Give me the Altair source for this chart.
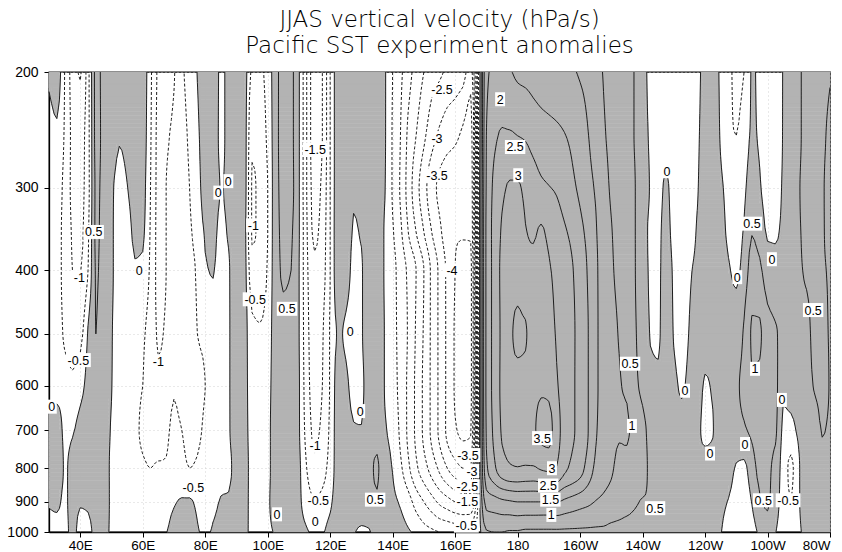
import math
import numpy as np
import pandas as pd
import altair as alt

alt.data_transformers.disable_max_rows()

# ---------------------------------------------------------------- data
LEVELS = [200, 250, 300, 350, 400, 500, 600, 700, 800, 900, 1000]
LON_START = 30.0
LON_STEP = 2.5

# vertical profiles (hPa/s) at LEVELS, one per longitude, 2.5 deg apart
SECTOR_30E = [  # 30E .. 57.5E
    [0.1, -0.2, -0.3, -0.3, -0.3, -0.3, -0.2, 0.3, 0.3, 0.05, -0.2],
    [0.3, -0.1, -0.35, -0.4, -0.4, -0.35, -0.2, 0.3, 0.35, 0.1, -0.2],
    [-0.5, -0.55, -0.6, -0.6, -0.6, -0.55, -0.3, -0.1, -0.05, -0.1, -0.2],
    [-1.2, -1.1, -1.1, -1.05, -1.0, -0.7, -0.4, -0.05, 0.15, 0.2, 0.2],
    [-1.55, -1.2, -1.15, -1.1, -1.02, -0.65, -0.2, 0.2, 0.35, 0.05, -0.2],
    [-0.7, -0.7, -0.7, -0.6, -0.5, 0.05, 0.2, 0.35, 0.4, 0.1, -0.2],
    [0.65, 0.65, 0.6, 0.6, 0.55, 0.5, 0.45, 0.4, 0.35, 0.3, 0.2],
    [0.4, 0.4, 0.35, 0.3, 0.3, 0.3, 0.25, 0.25, 0.25, 0.25, 0.2],
    [0.4, 0.35, 0.1, 0.1, 0.1, 0.05, 0.02, -0.05, -0.1, -0.1, -0.1],
    [0.3, 0.05, -0.2, -0.3, -0.3, -0.35, -0.35, -0.35, -0.3, -0.3, -0.2],
    [0.3, 0.15, -0.02, -0.2, -0.3, -0.35, -0.4, -0.4, -0.35, -0.3, -0.2],
    [0.35, 0.3, 0.2, 0.1, -0.05, -0.4, -0.45, -0.45, -0.4, -0.3, -0.25],
]
SECTOR_60E = [  # 60E .. 87.5E
    [0.3, 0.25, 0.15, 0.08, -0.1, -0.45, -0.5, -0.55, -0.45, -0.3, -0.2],
    [-0.4, -0.45, -0.5, -0.55, -0.6, -0.7, -0.7, -0.65, -0.5, -0.3, -0.1],
    [-1.1, -1.1, -1.1, -1.1, -1.1, -1.05, -0.9, -0.75, -0.45, -0.3, -0.1],
    [-1.3, -1.05, -1.0, -1.0, -1.0, -0.95, -0.8, -0.6, -0.45, -0.2, -0.02],
    [-1.05, -0.9, -0.85, -0.8, -0.8, -0.75, -0.55, -0.4, -0.35, -0.05, 0.2],
    [-0.55, -0.6, -0.65, -0.7, -0.7, -0.7, -0.65, -0.5, -0.4, 0.05, 0.3],
    [-0.4, -0.45, -0.5, -0.55, -0.6, -0.65, -0.65, -0.6, -0.5, 0.05, 0.25],
    [0.02, -0.1, -0.2, -0.35, -0.45, -0.5, -0.55, -0.55, -0.45, -0.1, 0.05],
    [0.3, 0.25, 0.2, 0.05, -0.05, -0.45, -0.5, -0.45, -0.3, -0.3, -0.1],
    [0.35, 0.3, 0.2, 0.1, 0.03, -0.3, -0.35, -0.3, -0.25, -0.1, 0.05],
    [-0.1, -0.1, -0.02, -0.1, -0.2, -0.2, -0.2, -0.15, -0.1, 0.02, 0.1],
    [0.15, 0.15, 0.1, 0.05, -0.05, -0.05, -0.05, -0.05, -0.1, 0.05, 0.15],
]
SECTOR_90E = [  # 90E .. 117.5E
    [0.4, 0.4, 0.35, 0.3, 0.3, 0.25, 0.25, 0.25, 0.2, 0.25, 0.2],
    [0.25, 0.25, 0.25, 0.2, 0.2, 0.2, 0.2, 0.2, 0.2, 0.2, 0.1],
    [-0.6, -0.9, -1.05, -1.05, -0.8, -0.4, -0.3, -0.25, -0.2, -0.2, -0.1],
    [-0.6, -0.8, -0.9, -0.9, -0.8, -0.45, -0.3, -0.3, -0.3, -0.3, -0.2],
    [-0.3, -0.4, -0.5, -0.5, -0.45, -0.3, -0.2, -0.15, -0.15, -0.1, -0.1],
    [0.3, 0.3, 0.3, 0.3, 0.3, 0.3, 0.3, 0.3, 0.3, 0.25, 0.05],
    [0.7, 0.7, 0.65, 0.6, 0.55, 0.4, 0.35, 0.35, 0.35, 0.3, 0.2],
    [0.6, 0.6, 0.6, 0.55, 0.5, 0.35, 0.3, 0.3, 0.3, 0.3, 0.3],
    [0.05, 0.05, 0.05, 0.05, 0.02, 0.02, 0.05, 0.05, 0.1, 0.1, 0.2],
    [-1.0, -1.0, -1.0, -0.95, -0.9, -0.85, -0.8, -0.7, -0.5, -0.25, 0.05],
    [-1.8, -1.8, -1.7, -1.6, -1.4, -1.25, -1.2, -1.1, -0.9, -0.45, -0.1],
    [-1.5, -1.5, -1.4, -1.3, -1.2, -1.05, -1.0, -0.9, -0.7, -0.35, -0.05],
]
SECTOR_120E = [  # 120E .. 147.5E
    [-0.5, -0.5, -0.5, -0.5, -0.5, -0.45, -0.45, -0.4, -0.3, -0.1, 0.2],
    [0.3, 0.3, 0.3, 0.3, 0.3, 0.05, 0.2, 0.25, 0.25, 0.3, 0.3],
    [0.45, 0.45, 0.4, 0.3, 0.2, -0.05, 0.1, 0.3, 0.4, 0.4, 0.3],
    [0.45, 0.4, 0.1, -0.05, -0.1, -0.15, -0.15, 0.05, 0.35, 0.35, 0.05],
    [0.45, 0.4, 0.2, 0.05, -0.05, -0.05, -0.1, 0.02, 0.2, 0.3, -0.1],
    [0.45, 0.45, 0.4, 0.4, 0.35, 0.3, 0.25, 0.3, 0.4, 0.35, -0.05],
    [0.3, 0.3, 0.3, 0.3, 0.3, 0.25, 0.25, 0.35, 0.55, 0.45, 0.3],
    [0.05, 0.05, 0.02, -0.05, -0.05, -0.02, -0.02, 0.05, 0.2, 0.3, 0.35],
    [-0.5, -0.55, -0.55, -0.45, -0.35, -0.35, -0.3, -0.15, -0.02, 0.1, 0.25],
    [-0.9, -1.0, -1.05, -0.9, -0.7, -0.65, -0.65, -0.6, -0.4, -0.05, 0.15],
    [-1.3, -1.6, -1.7, -1.5, -1.1, -1.05, -1.1, -1.1, -0.9, -0.3, 0.05],
    [-1.7, -2.0, -2.3, -2.0, -1.5, -1.55, -1.6, -1.6, -1.4, -0.7, -0.1],
]
SECTOR_150E = [  # 150E .. 177.5E
    [-2.0, -2.4, -2.8, -2.5, -2.0, -2.05, -2.1, -2.1, -1.8, -1.0, -0.3],
    [-2.3, -2.8, -3.3, -3.0, -2.6, -2.6, -2.6, -2.6, -2.2, -1.3, -0.4],
    [-2.4, -3.1, -3.6, -3.4, -3.1, -3.1, -3.1, -3.1, -2.6, -1.6, -0.5],
    [-2.6, -3.3, -3.75, -3.75, -3.6, -3.6, -3.6, -3.6, -3.0, -1.8, -0.55],
    [-2.7, -3.4, -3.85, -3.95, -4.0, -4.05, -4.05, -3.95, -3.3, -2.0, -0.6],
    [-2.8, -3.6, -3.9, -3.95, -4.3, -4.25, -4.25, -4.1, -3.5, -2.1, -0.65],
    [-3.3, -3.8, -3.9, -3.95, -4.2, -4.2, -4.2, -4.05, -3.5, -2.1, -0.6],
    [-0.5, -0.5, -0.4, -0.4, -0.4, -0.4, -0.4, -0.4, -0.3, -0.3, -0.2],
    [1.9, 2.0, 2.05, 2.1, 2.1, 2.1, 2.1, 2.05, 1.9, 1.2, 0.45],
    [2.1, 2.4, 2.6, 2.65, 2.65, 2.65, 2.65, 2.6, 2.4, 1.3, 0.5],
    [2.2, 2.55, 2.9, 3.05, 3.1, 3.1, 3.1, 3.05, 2.8, 1.4, 0.5],
    [2.05, 2.55, 3.05, 3.2, 3.25, 3.4, 3.3, 3.2, 2.95, 1.45, 0.45],
]
SECTOR_180 = [  # 180 .. 152.5W
    [1.9, 2.5, 3.05, 3.2, 3.3, 3.6, 3.35, 3.3, 2.98, 1.5, 0.45],
    [1.85, 2.45, 2.9, 3.02, 3.1, 3.55, 3.35, 3.35, 2.95, 1.5, 0.4],
    [1.8, 2.3, 2.75, 2.95, 3.1, 3.25, 3.4, 3.45, 2.95, 1.5, 0.4],
    [1.75, 2.2, 2.6, 3.05, 3.15, 3.25, 3.45, 3.6, 3.05, 1.5, 0.4],
    [1.7, 2.15, 2.52, 2.9, 3.05, 3.2, 3.4, 3.65, 3.1, 1.5, 0.4],
    [1.65, 2.1, 2.45, 2.7, 2.85, 2.95, 3.05, 3.2, 2.98, 1.52, 0.4],
    [1.6, 2.02, 2.3, 2.55, 2.7, 2.75, 2.8, 2.8, 2.6, 1.4, 0.4],
    [1.55, 1.9, 2.1, 2.4, 2.52, 2.55, 2.55, 2.55, 2.4, 1.3, 0.4],
    [1.45, 1.75, 1.9, 2.15, 2.35, 2.4, 2.4, 2.4, 2.2, 1.2, 0.4],
    [1.35, 1.52, 1.65, 1.85, 1.95, 2.02, 2.02, 2.02, 1.8, 1.1, 0.4],
    [1.15, 1.3, 1.45, 1.55, 1.6, 1.6, 1.6, 1.55, 1.4, 0.98, 0.4],
    [0.98, 1.05, 1.15, 1.2, 1.25, 1.3, 1.3, 1.3, 1.2, 0.9, 0.4],
]
SECTOR_150W = [  # 150W .. 122.5W
    [0.85, 0.9, 0.95, 1.02, 1.05, 1.1, 1.1, 1.1, 1.05, 0.8, 0.35],
    [0.75, 0.75, 0.8, 0.85, 0.9, 0.98, 1.02, 1.02, 0.9, 0.7, 0.35],
    [0.65, 0.65, 0.7, 0.7, 0.75, 0.8, 0.95, 1.05, 0.85, 0.65, 0.3],
    [0.48, 0.48, 0.52, 0.52, 0.52, 0.55, 0.6, 0.8, 0.7, 0.55, 0.3],
    [0.15, 0.15, 0.2, 0.2, 0.25, 0.3, 0.4, 0.6, 0.6, 0.48, 0.3],
    [-0.1, -0.05, -0.02, -0.05, -0.05, -0.02, 0.15, 0.4, 0.45, 0.48, 0.3],
    [-0.2, -0.2, -0.1, -0.05, -0.05, -0.05, 0.1, 0.3, 0.4, 0.45, 0.3],
    [-0.2, -0.1, 0.05, 0.1, 0.15, 0.2, 0.25, 0.3, 0.4, 0.4, 0.3],
    [-0.3, -0.25, -0.15, -0.1, -0.05, -0.02, 0.1, 0.2, 0.3, 0.35, 0.3],
    [-0.3, -0.3, -0.25, -0.2, -0.2, -0.15, -0.05, 0.15, 0.25, 0.3, 0.3],
    [-0.3, -0.3, -0.25, -0.2, -0.05, 0.02, 0.1, 0.2, 0.3, 0.3, 0.3],
    [-0.15, -0.1, -0.05, 0.05, 0.1, 0.15, 0.2, 0.1, 0.15, 0.3, 0.3],
]
SECTOR_120W = [  # 120W .. 80W
    [0.2, 0.25, 0.3, 0.3, 0.3, 0.25, -0.05, -0.1, 0.2, 0.3, 0.3],
    [0.3, 0.3, 0.3, 0.3, 0.3, 0.25, 0.05, -0.02, 0.2, 0.3, 0.25],
    [-0.1, -0.05, 0.1, 0.2, 0.25, 0.3, 0.3, 0.3, 0.2, 0.1, 0.02],
    [-0.3, -0.4, -0.2, -0.1, 0.05, 0.25, 0.35, 0.35, 0.2, -0.02, -0.15],
    [-0.7, -0.5, -0.35, -0.2, -0.1, 0.3, 0.45, 0.4, -0.05, -0.2, -0.25],
    [-0.5, -0.25, -0.1, 0.05, 0.2, 0.55, 0.6, 0.45, -0.1, -0.25, -0.3],
    [0.05, 0.05, 0.25, 0.48, 0.7, 1.05, 0.95, 0.6, 0.3, 0.02, -0.2],
    [-0.1, -0.05, 0.05, 0.3, 0.6, 1.05, 0.9, 0.7, 0.6, 0.45, 0.1],
    [-0.3, -0.3, -0.2, -0.05, 0.2, 0.7, 0.8, 0.7, 0.6, 0.55, 0.3],
    [-0.25, -0.2, -0.15, -0.05, 0.15, 0.55, 0.65, 0.6, 0.3, 0.2, 0.02],
    [0.02, 0.02, 0.05, 0.1, 0.3, 0.4, 0.1, -0.1, -0.2, -0.2, -0.2],
    [0.3, 0.3, 0.35, 0.4, 0.45, 0.45, 0.2, -0.15, -0.6, -0.5, -0.3],
    [0.45, 0.45, 0.48, 0.48, 0.48, 0.45, 0.35, 0.1, -0.05, -0.05, -0.1],
    [0.6, 0.6, 0.6, 0.55, 0.52, 0.45, 0.4, 0.2, 0.3, 0.3, 0.2],
    [0.7, 0.7, 0.65, 0.6, 0.55, 0.55, 0.52, 0.3, 0.4, 0.4, 0.3],
    [0.6, 0.55, 0.52, 0.52, 0.52, 0.55, 0.6, 0.52, 0.4, 0.35, 0.2],
    [0.52, 0.45, 0.45, 0.45, 0.48, 0.48, 0.48, 0.45, 0.35, 0.3, 0.02],
]

# contour labels as printed on the figure
LABEL_TEXT = ["0", "0.5", "-1", "-0.5", "0", "0", "0", "-1", "-0.5",
              "-1", "-0.5", "0.5", "-1.5", "-1", "-0.5", "0", "0", "0", "0", "0.5",
              "-2.5", "-3", "-3.5", "-4", "-3.5", "-3", "-2.5", "-1.5", "-0.5",
              "2", "2.5", "3", "3.5", "3", "2.5", "1.5", "1",
              "0.5", "1", "0.5", "0", "0", "0.5", "0", "0", "1", "0.5",
              "0", "0", "0", "0.5", "-0.5"]
LABEL_LON = [30.9, 44.3, 39.7, 39.4, 58.9, 84.2, 87.4, 65.0, 76.2,
             95.4, 96.0, 106.2, 115.2, 115.2, 116.2, 103.0, 115.2, 126.4, 129.6, 134.4,
             155.8, 154.2, 154.2, 159.0, 164.1, 165.4, 163.9, 163.9, 163.6,
             174.4, 179.2, 180.2, 187.9, 191.0, 189.8, 190.5, 190.8,
             216.0, 216.6, 224.0, 227.8, 233.6, 255.0, 261.4, 250.3, 256.0, 274.6,
             241.6, 252.8, 264.6, 258.6, 266.6]
LABEL_P = [645, 350, 410, 548, 400, 305, 293, 550, 855,
           342, 443, 458, 262, 740, 895, 940, 965, 495, 655, 893,
           213, 252, 287, 400, 764, 808, 852, 898, 978,
           220, 260, 287, 720, 800, 850, 893, 942,
           555, 690, 920, 283, 610, 340, 385, 410, 565, 460,
           760, 735, 630, 895, 895]

CONTOUR_LEVELS = [x / 2 for x in range(-9, 9)]

# ---------------------------------------------------------------- geometry
profiles = SECTOR_30E + SECTOR_60E + SECTOR_90E + SECTOR_120E + SECTOR_150E + SECTOR_180 + SECTOR_150W + SECTOR_120W
lons = np.array([LON_START + LON_STEP * i for i in range(len(profiles))])
Z = np.array(profiles, dtype=float).T          # (nlev, nlon)
lv = np.log(np.array(LEVELS, dtype=float))


def pchip(x, y, xq):
    """Monotone piecewise cubic (Fritsch-Carlson) curve through the given values."""
    x = np.asarray(x, float); y = np.asarray(y, float)
    h = np.diff(x); d = np.diff(y) / h
    n = len(x)
    m = np.zeros(n)
    for k in range(1, n - 1):
        if d[k - 1] * d[k] > 0:
            w1 = 2 * h[k] + h[k - 1]; w2 = h[k] + 2 * h[k - 1]
            m[k] = (w1 + w2) / (w1 / d[k - 1] + w2 / d[k])
    m[0] = d[0]; m[-1] = d[-1]
    k = np.clip(np.searchsorted(x, xq, side="right") - 1, 0, n - 2)
    t = (xq - x[k]) / h[k]
    h00 = 2 * t**3 - 3 * t**2 + 1; h10 = t**3 - 2 * t**2 + t
    h01 = -2 * t**3 + 3 * t**2; h11 = t**3 - t**2
    return h00 * y[k] + h10 * h[k] * m[k] + h01 * y[k + 1] + h11 * h[k] * m[k + 1]


FX = 3
fine_lon = np.linspace(lons[0], lons[-1], (len(lons) - 1) * FX + 1)
fv = []
for k in range(len(lv) - 1):
    n = max(2, int(round((lv[k + 1] - lv[k]) / (lv[-1] - lv[0]) * 460 / 4)))
    for s in range(n):
        fv.append(lv[k] + (lv[k + 1] - lv[k]) * s / n)
fv.append(lv[-1])
fine_v = np.array(fv)
Zx = np.array([pchip(lons, row, fine_lon) for row in Z])
ZF = np.array([pchip(lv, Zx[:, i], fine_v) for i in range(Zx.shape[1])]).T  # (nv, nx)


def edge_point(edge, c):
    kind, i, j = edge
    if kind == 'h':
        v0, v1 = ZF[j, i], ZF[j, i + 1]
        t = (c - v0) / (v1 - v0)
        return (fine_lon[i] + t * (fine_lon[i + 1] - fine_lon[i]), fine_v[j])
    v0, v1 = ZF[j, i], ZF[j + 1, i]
    t = (c - v0) / (v1 - v0)
    return (fine_lon[i], fine_v[j] + t * (fine_v[j + 1] - fine_v[j]))


def case_index(c):
    B = (ZF > c).astype(int)
    return B[:-1, :-1] | (B[:-1, 1:] << 1) | (B[1:, 1:] << 2) | (B[1:, :-1] << 3)


def contour_paths(c):
    idx = case_index(c)
    js, iss = np.nonzero((idx != 0) & (idx != 15))
    segs = []
    for j, i in zip(js, iss):
        k = idx[j, i]
        e0 = ('h', i, j); e1 = ('v', i + 1, j); e2 = ('h', i, j + 1); e3 = ('v', i, j)
        bits = [(k >> n) & 1 for n in range(4)]
        cr = []
        if bits[0] != bits[1]: cr.append(e0)
        if bits[1] != bits[2]: cr.append(e1)
        if bits[2] != bits[3]: cr.append(e2)
        if bits[3] != bits[0]: cr.append(e3)
        if len(cr) == 2:
            segs.append((cr[0], cr[1]))
        else:
            center = (ZF[j, i] + ZF[j, i + 1] + ZF[j + 1, i + 1] + ZF[j + 1, i]) / 4
            if (k == 5) == (center > c):
                segs += [(e0, e1), (e2, e3)]
            else:
                segs += [(e3, e0), (e1, e2)]
    adj = {}
    for s, (a, b) in enumerate(segs):
        adj.setdefault(a, []).append(s)
        adj.setdefault(b, []).append(s)
    used = [False] * len(segs)

    def walk(start, s):
        path = [start]
        cur = start
        while s is not None and not used[s]:
            used[s] = True
            a, b = segs[s]
            nxt = b if a == cur else a
            path.append(nxt)
            cur = nxt
            s = next((t for t in adj[nxt] if not used[t]), None)
        return path

    paths = []
    for e, lst in adj.items():
        if len(lst) == 1 and not used[lst[0]]:
            paths.append(walk(e, lst[0]))
    for s in range(len(segs)):
        if not used[s]:
            paths.append(walk(segs[s][0], s))
    return [[edge_point(e, c) for e in p] for p in paths]


# filled (positive) region: full-cell runs as rects, partial cells as polygons
idx0 = case_index(0.0)
rect_rows = []
for j in range(idx0.shape[0]):
    row = idx0[j]
    i = 0
    while i < len(row):
        if row[i] == 15:
            k = i
            while k + 1 < len(row) and row[k + 1] == 15:
                k += 1
            rect_rows.append({"lon": fine_lon[i], "lon2": fine_lon[k + 1],
                              "p": math.exp(fine_v[j]), "p2": math.exp(fine_v[j + 1])})
            i = k + 1
        else:
            i += 1
rects_df = pd.DataFrame(rect_rows)

poly_rows = []
pid = 0
js, iss = np.nonzero((idx0 != 0) & (idx0 != 15))
for j, i in zip(js, iss):
    k = idx0[j, i]
    corners = [(fine_lon[i], fine_v[j], ZF[j, i]), (fine_lon[i + 1], fine_v[j], ZF[j, i + 1]),
               (fine_lon[i + 1], fine_v[j + 1], ZF[j + 1, i + 1]), (fine_lon[i], fine_v[j + 1], ZF[j + 1, i])]
    edges = [('h', i, j), ('v', i + 1, j), ('h', i, j + 1), ('v', i, j)]
    center = sum(c[2] for c in corners) / 4
    polys = []
    if k in (5, 10) and center <= 0:
        for n in range(4):
            if corners[n][2] > 0:
                polys.append([edge_point(edges[(n - 1) % 4], 0.0), corners[n][:2], edge_point(edges[n], 0.0)])
    else:
        poly = []
        for n in range(4):
            a = corners[n]; b = corners[(n + 1) % 4]
            if a[2] > 0:
                poly.append(a[:2])
            if (a[2] > 0) != (b[2] > 0):
                poly.append(edge_point(edges[n], 0.0))
        polys.append(poly)
    for poly in polys:
        for o, (x, v) in enumerate(poly):
            poly_rows.append({"pid": pid, "ord": o, "lon": round(float(x), 4), "p": round(math.exp(v), 3)})
        pid += 1
poly_df = pd.DataFrame(poly_rows)

line_rows = []
cid = 0
for c in CONTOUR_LEVELS:
    for path in contour_paths(c):
        for o, (x, v) in enumerate(path):
            line_rows.append({"cid": cid, "ord": o, "lon": round(float(x), 4),
                              "p": round(math.exp(v), 3), "neg": c < 0})
        cid += 1
lines_df = pd.DataFrame(line_rows)
solid_df = lines_df[~lines_df["neg"]]
dash_df = lines_df[lines_df["neg"]]

FS = 12.5
def text_width(t):
    w = 0.0
    for ch in t:
        w += {'-': 0.36, '.': 0.28}.get(ch, 0.556)
    return w * FS

SIDE = 28.0
shapes = []
for t in LABEL_TEXT:
    a = (text_width(t) / 2 + 1.5) / (SIDE / 2)
    b = 7.0 / (SIDE / 2)
    shapes.append(f"M{-a:.3f},{-b:.3f}L{a:.3f},{-b:.3f}L{a:.3f},{b:.3f}L{-a:.3f},{b:.3f}Z")
labels_df = pd.DataFrame({"lon": LABEL_LON, "p": LABEL_P, "text": LABEL_TEXT, "shape": shapes})

# ---------------------------------------------------------------- chart
GRAY = "#b3b3b3"
INK = "#1e1e1e"
FONT = "Liberation Sans"

xscale = alt.Scale(domain=[30, 280], nice=False, zero=False)
yscale = alt.Scale(type="log", domain=[200, 1000], reverse=True, nice=False, zero=False)
xaxis = alt.Axis(values=list(range(40, 281, 20)), title=None, grid=True, labelFontSize=13.5, labelPadding=1,
                 labelExpr="datum.value < 180 ? datum.value + 'E' : (datum.value == 180 ? '180' : (360 - datum.value) + 'W')")
yaxis = alt.Axis(values=[200, 300, 400, 500, 600, 700, 800, 900, 1000], format="d", title=None, grid=True,
                 labelFontSize=14, labelPadding=6)

X = alt.X("lon:Q", scale=xscale, axis=xaxis)
Y = alt.Y("p:Q", scale=yscale, axis=yaxis)

fill_rects = alt.Chart(rects_df).mark_rect(color=GRAY, stroke=GRAY, strokeWidth=0.6).encode(
    x=X, x2="lon2:Q", y=Y, y2="p2:Q")
fill_polys = alt.Chart(poly_df).mark_line(fill=GRAY, stroke=GRAY, strokeWidth=0.6, interpolate="linear").encode(
    x=X, y=Y, detail="pid:N", order="ord:Q")
solid = alt.Chart(solid_df).mark_line(color=INK, strokeWidth=1.0).encode(
    x=X, y=Y, detail="cid:N", order="ord:Q")
dashed = alt.Chart(dash_df).mark_line(color=INK, strokeWidth=1.0, strokeDash=[3, 2]).encode(
    x=X, y=Y, detail="cid:N", order="ord:Q")
boxes = alt.Chart(labels_df).mark_point(filled=True, fill="white", opacity=1, strokeWidth=0, size=SIDE * SIDE).encode(
    x=X, y=Y, shape=alt.Shape("shape:N", scale=None))
texts = alt.Chart(labels_df).mark_text(font=FONT, fontSize=FS, color="black", baseline="middle", align="center", dy=0.5).encode(
    x=X, y=Y, text="text:N")

chart = alt.layer(fill_rects, fill_polys, solid, dashed, boxes, texts).properties(
    width=781, height=460,
    padding={"left": 49, "top": 72, "right": 12, "bottom": 20},
    autosize=alt.AutoSizeParams(type="none"),
    title=alt.TitleParams(text=["JJAS vertical velocity (hPa/s)", "Pacific SST experiment anomalies"],
                          font="DejaVu Sans", fontSize=23, fontWeight=200, color="black",
                          anchor="middle", lineHeight=26, offset=-16, baseline="bottom"),
).configure_view(stroke="black", strokeWidth=1.3).configure_axis(
    domainColor="black", domainWidth=1.3, tickColor="black", tickSize=5, tickWidth=1,
    labelFont=FONT, labelColor="black",
    gridColor="#c8c8c8", gridDash=[1, 3], gridWidth=0.8,
)

chart.save("out.html", embed_options={"renderer": "svg", "actions": False})
